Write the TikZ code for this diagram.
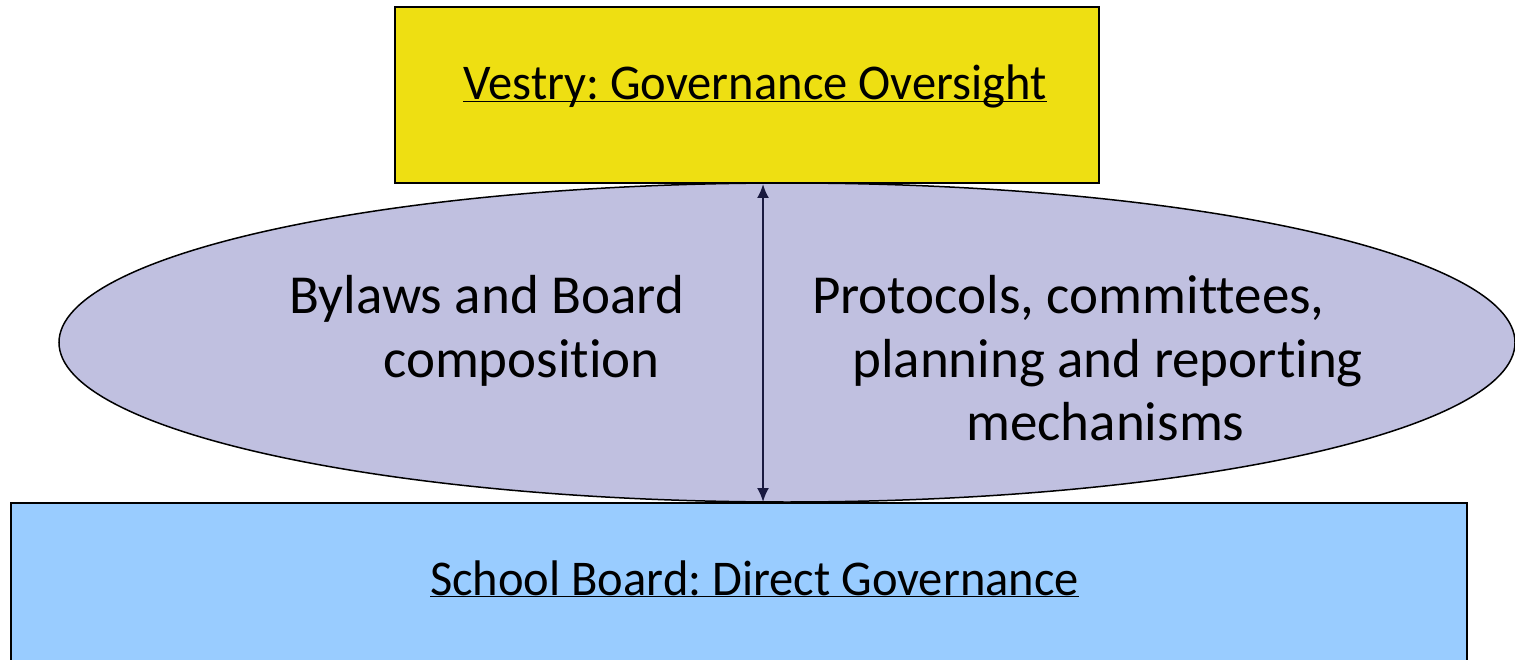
\documentclass[tikz,border=0pt]{standalone}
\usepackage{fontspec}
\setmainfont[Ligatures={NoCommon}]{Carlito}
\usetikzlibrary{arrows.meta,shapes.geometric}
\definecolor{vyellow}{HTML}{EEDF12}
\definecolor{lav}{HTML}{C0C0E0}
\definecolor{sblue}{HTML}{99CCFF}
\definecolor{navy}{HTML}{1A1A40}
\frenchspacing
\newcommand{\ul}[1]{\scalebox{0.97}[1]{\underline{\smash{#1}}}}
\begin{document}
\begin{tikzpicture}[x=1pt,y=-1pt,
  box/.style={draw=black,line width=2pt,inner sep=0pt},
  bigtext/.style={font=\fontsize{50}{60}\selectfont},
  midtext/.style={font=\fontsize{55}{66}\selectfont,anchor=base west,inner sep=0pt}]
\useasboundingbox (0,0) rectangle (1515,660);
\begin{scope}
\clip (0,0) rectangle (1515,660);
\node[draw=black,line width=1.5pt,fill=lav,ellipse,minimum width=1456pt,minimum height=319pt,inner sep=0pt] (ell) at (787,342.5) {};
\node[box,fill=vyellow,minimum width=704pt,minimum height=176pt] (vestry) at (747,95) {};
\node[box,fill=sblue,minimum width=1456pt,minimum height=180pt] (board) at (739,593) {};
\end{scope}
\node[bigtext,anchor=base,inner sep=0pt] (vt) at (755,100) {\ul{Vestry: Governance Oversight}};
\node[bigtext,anchor=base,inner sep=0pt] (bt) at (754.5,595) {\ul{School Board: Direct Governance}};
\node[midtext] (l1) at (289,313) {Bylaws and Board};
\node[midtext] (l2) at (383,377) {composition};
\node[midtext] (r1) at (812,313) {Protocols, committees,};
\node[midtext] (r2) at (852,377) {planning and reporting};
\node[midtext] (r3) at (966,440) {mechanisms};
\coordinate (ax) at (763,0);
\draw[navy,line width=2pt,{Latex[length=14pt,width=12pt]}-{Latex[length=14pt,width=12pt]}] (vestry.south -| ax) -- (board.north -| ax);
\end{tikzpicture}
\end{document}
